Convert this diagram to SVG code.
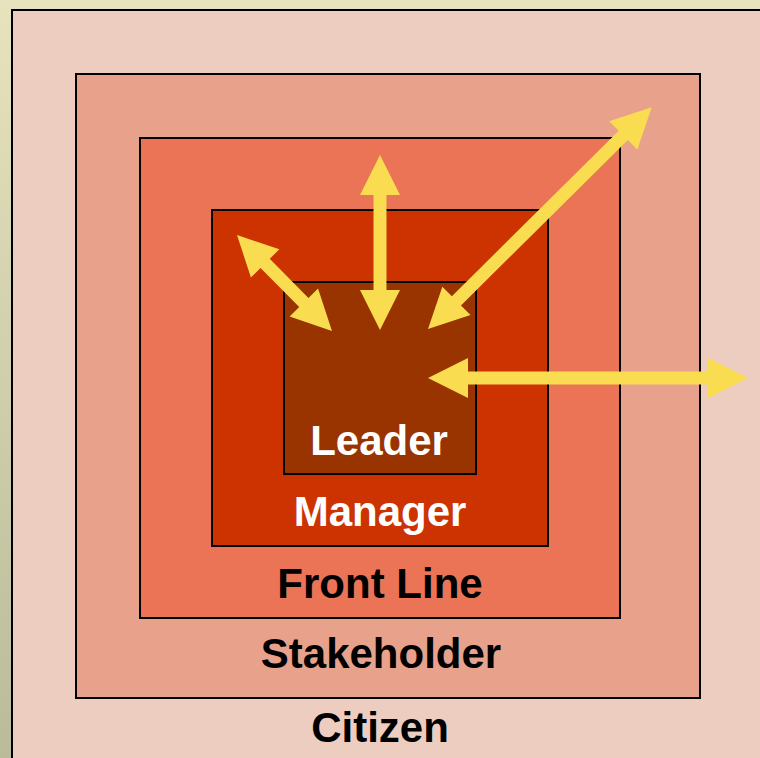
<svg xmlns="http://www.w3.org/2000/svg" width="760" height="758" viewBox="0 0 760 758">
  <defs>
    <linearGradient id="bg" x1="0" y1="0" x2="0" y2="1">
      <stop offset="0" stop-color="#e6e3bd"/>
      <stop offset="1" stop-color="#bbbb9a"/>
    </linearGradient>
    <style>
      .ring { stroke: #000; stroke-width: 2; }
      .label { font-family: "Liberation Sans", Arial, sans-serif; font-weight: bold; font-size: 42px; text-anchor: middle; }
      .dark { fill: #000; }
      .light { fill: #fff; }
      .arrow { fill: #fadc50; }
    </style>
  </defs>

  <!-- page background -->
  <rect x="0" y="0" width="760" height="758" fill="url(#bg)"/>

  <!-- nested rings, outermost first -->
  <g id="citizen">
    <rect class="ring" x="12" y="10" width="760" height="760" fill="#eccdc0" stroke-width="2.5"/>
    <text class="label dark" x="380" y="742">Citizen</text>
  </g>
  <g id="stakeholder">
    <rect class="ring" x="76" y="74" width="624" height="624" fill="#e8a28c"/>
    <text class="label dark" x="381" y="668">Stakeholder</text>
  </g>
  <g id="front-line">
    <rect class="ring" x="140" y="138" width="480" height="480" fill="#ea7455"/>
    <text class="label dark" x="380" y="598">Front Line</text>
  </g>
  <g id="manager">
    <rect class="ring" x="212" y="210" width="336" height="336" fill="#cc3300"/>
    <text class="label light" x="380" y="526">Manager</text>
  </g>
  <g id="leader">
    <rect class="ring" x="284" y="282" width="192" height="192" fill="#993300"/>
    <text class="label light" x="379" y="455">Leader</text>
  </g>

  <!-- two-headed arrows reaching out from the leader -->
  <g id="connectors" class="arrow">
    <polygon transform="translate(380 155) rotate(90)" points="0,0 40,-20 40,-6.5 135,-6.5 135,-20 175,0 135,20 135,6.5 40,6.5 40,20"/>
    <polygon transform="translate(237 235) rotate(45.3)" points="0,0 40,-20 40,-6.5 95,-6.5 95,-20 135,0 95,20 95,6.5 40,6.5 40,20"/>
    <polygon transform="translate(428 329) rotate(-44.75)" points="0,0 40,-20 40,-6.5 275,-6.5 275,-20 315,0 275,20 275,6.5 40,6.5 40,20"/>
    <polygon transform="translate(428 378)" points="0,0 40,-20 40,-6.5 280,-6.5 280,-20 320,0 280,20 280,6.5 40,6.5 40,20"/>
  </g>
</svg>
